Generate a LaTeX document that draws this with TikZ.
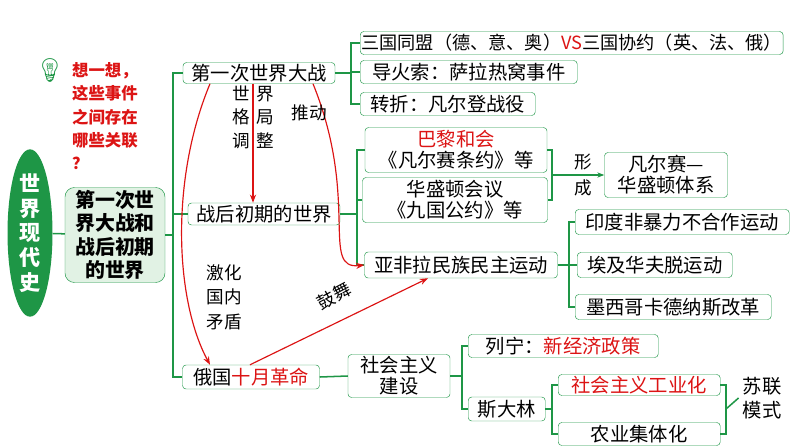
\documentclass[tikz,border=0pt]{standalone}
\usepackage{fontspec}
\setmainfont{Noto Sans CJK SC}
\newfontfamily\emojifont{Noto Emoji}
\usetikzlibrary{positioning, arrows.meta, shapes.geometric}
\definecolor{verde}{RGB}{30, 150, 70}
\definecolor{claro}{RGB}{225, 242, 228}
\definecolor{rojo}{RGB}{220, 20, 20}
\tikzset{
    caja/.style={draw=verde, rounded corners=3pt, fill=white, inner sep=1pt, font=\fontsize{16.5}{18}\selectfont},
    conn/.style={-, verde, line width=1.3pt},
    flecha/.style={-{Stealth[length=7pt]}, rojo, line width=1pt},
    nota/.style={font=\fontsize{15}{17}\selectfont},
}
\begin{document}
\begin{tikzpicture}[x=0.03cm, y=-0.03cm]
        \useasboundingbox (0,0) rectangle (794,447);
        % raiz
        \node [ellipse, fill=verde, text=white, minimum width=45*0.03cm, minimum height=133*0.03cm, inner sep=0pt,
               font=\fontsize{18}{21}\selectfont\bfseries, align=center] (root) at (30,233) {世\\界\\现\\代\\史};
        \node [caja, fill=claro, rounded corners=8pt, minimum width=100*0.03cm, minimum height=95*0.03cm, align=center,
               font=\fontsize{17}{20}\selectfont\bfseries] (main) at (115,235) {第一次世\\界大战和\\战后初期\\的世界};
        % nivel 2
        \node [caja, minimum width=152*0.03cm, minimum height=21*0.03cm] (ww1) at (259,73) {第一次世界大战};
        \node [caja, minimum width=152*0.03cm, minimum height=22*0.03cm] (post) at (264,214) {战后初期的世界};
        \node [caja, minimum width=137*0.03cm, minimum height=24*0.03cm] (rus) at (251,377) {俄国\textcolor{rojo}{十月革命}};
        % primera guerra
        \node [caja, minimum width=420*0.03cm, minimum height=23*0.03cm, anchor=west, font=\fontsize{15.5}{17}\selectfont] (sanguo) at (360,43) {三国同盟（德、意、奥）\textcolor{rojo}{VS}三国协约（英、法、俄）};
        \node [caja, minimum width=217*0.03cm, minimum height=23*0.03cm, anchor=west] (fuse) at (360,72) {导火索：萨拉热窝事件};
        \node [caja, minimum width=175*0.03cm, minimum height=23*0.03cm, anchor=west] (turn) at (360,104) {转折：凡尔登战役};
        % posguerra
        \node [caja, minimum width=182*0.03cm, minimum height=45*0.03cm, align=center] (paris) at (456,150) {\textcolor{rojo}{巴黎和会}\\《凡尔赛条约》等};
        \node [caja, minimum width=185*0.03cm, minimum height=45*0.03cm, align=center] (wash) at (455,200) {华盛顿会议\\《九国公约》等};
        \node [caja, minimum width=123*0.03cm, minimum height=45*0.03cm, align=center] (vw) at (666,175) {凡尔赛—\\华盛顿体系};
        \node [caja, minimum width=193*0.03cm, minimum height=26*0.03cm] (asia) at (461,265) {亚非拉民族民主运动};
        \node [caja, minimum width=214*0.03cm, minimum height=25*0.03cm, anchor=west] (india) at (575,222) {印度非暴力不合作运动};
        \node [caja, minimum width=155*0.03cm, minimum height=25*0.03cm, anchor=west] (egypt) at (577,265) {埃及华夫脱运动};
        \node [caja, minimum width=196*0.03cm, minimum height=25*0.03cm, anchor=west] (mex) at (575,307) {墨西哥卡德纳斯改革};
        % rusia
        \node [caja, minimum width=102*0.03cm, minimum height=43*0.03cm, align=center] (soc) at (399,376) {社会主义\\建设};
        \node [caja, minimum width=190*0.03cm, minimum height=23*0.03cm, anchor=west] (lenin) at (468,346) {列宁：\textcolor{rojo}{新经济政策}};
        \node [caja, minimum width=77*0.03cm, minimum height=24*0.03cm, anchor=west] (stalin) at (468,409) {斯大林};
        \node [caja, minimum width=162*0.03cm, minimum height=21*0.03cm, anchor=west] (ind) at (558,385) {\textcolor{rojo}{社会主义工业化}};
        \node [caja, minimum width=162*0.03cm, minimum height=23*0.03cm, anchor=west] (agr) at (558,434) {农业集体化};
        \node [nota, align=center, font=\fontsize{16.5}{20}\selectfont] (model) at (762,398) {苏联\\模式};

        % pregunta
        \node [text=verde, font=\emojifont\fontsize{20}{20}\selectfont] (bulb) at (50,70) {💡};
        \node [text=rojo, anchor=north west, align=left, font=\fontsize{14}{20}\selectfont\bfseries] (ask) at (68,58) {想一想，\\这些事件\\之间存在\\哪些关联\\？};

        % conectores verdes
        \draw[conn] (root) -- (main);
        \draw[conn] (main.east) -- (173,235) |- (ww1.west);
        \draw[conn] (173,235) |- (post.west);
        \draw[conn] (173,235) |- (rus.west);
        \draw[conn] (ww1.east) -- (351,73) |- (sanguo.west);
        \draw[conn] (351,73) |- (fuse.west);
        \draw[conn] (351,73) |- (turn.west);
        \draw[conn] (post.east) -- (357,214) |- (paris.west);
        \draw[conn] (357,214) |- (wash.west);
        \draw[conn] (357,214) |- (asia.west);
        \draw[conn] (paris.east) -- (552,150) |- (wash.east);
        \draw[conn, -{Stealth[length=6pt]}] (552,175) -- (vw.west);
        \draw[conn] (asia.east) -- (569,265) |- (india.west);
        \draw[conn] (569,265) |- (egypt.west);
        \draw[conn] (569,265) |- (mex.west);
        \draw[conn] (rus.east) -- (soc.west);
        \draw[conn] (soc.east) -- (462,376) |- (lenin.west);
        \draw[conn] (462,376) |- (stalin.west);
        \draw[conn] (stalin.east) -- (552,409) |- (ind.west);
        \draw[conn] (552,409) |- (agr.west);
        \draw[conn] (ind.east) -- (726,385) |- (agr.east);
        \draw[conn] (726,409) -- (model.west);

        % flechas rojas
        \draw[flecha] (ww1.south -| 210,0) .. controls (170,180) and (175,300) .. (rus.north -| 210,0);
        \draw[flecha] (ww1.south -| 253,0) -- (post.north -| 253,0);
        \draw[flecha] (ww1.south -| 313,0) .. controls (360,200) and (320,270) .. (asia.west);
        \draw[flecha] (rus.north -| 250,0) -- (asia.south -| 428,0);

        % etiquetas
        \node [nota, align=center, font=\fontsize{15}{20}\selectfont] (lblA) at (241,117) {世\\格\\调};
        \node [nota, align=center, font=\fontsize{15}{20}\selectfont] (lblB) at (265,117) {界\\局\\整};
        \node [nota] (lblC) at (309,113) {推动};
        \node [nota, align=center, font=\fontsize{15}{21}\selectfont] (lblD) at (224,297) {激化\\国内\\矛盾};
        \node [nota, rotate=28] (lblE) at (334,296) {鼓舞};
        \node [nota, align=center, font=\fontsize{15}{22}\selectfont] (lblF) at (583,175) {形\\成};
    \end{tikzpicture}
\end{document}
